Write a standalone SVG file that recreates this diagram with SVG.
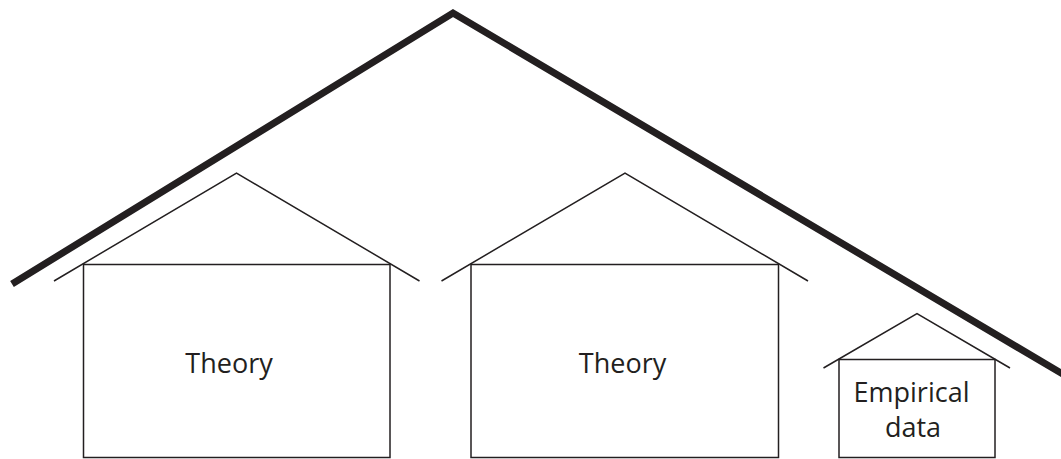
<svg xmlns="http://www.w3.org/2000/svg" width="1061" height="459" viewBox="0 0 1061 459">
<style>
.thin{fill:none;stroke:#231f20;stroke-width:1.5;stroke-linejoin:miter}
.thick{fill:none;stroke:#231f20;stroke-width:7;stroke-linejoin:miter;stroke-miterlimit:10}
.lbl{font-family:"Open Sans","Noto Sans",sans-serif;font-size:27px;fill:#231f20;text-anchor:middle}
</style>
<rect width="1061" height="459" fill="#ffffff"/>
<g id="connectors">
<polyline class="thick" points="12,284 453,13 1066,376"/>
</g>
<g id="house1">
<polyline class="thin" points="54,281 236.5,173 419.5,281"/>
<rect class="thin" x="83.5" y="264.5" width="306.5" height="193"/>
<text class="lbl" x="229" y="373">Theory</text>
</g>
<g id="house2">
<polyline class="thin" points="441.5,281 625,173 808,281"/>
<rect class="thin" x="471" y="264.5" width="307.5" height="193"/>
<text class="lbl" x="622.5" y="373">Theory</text>
</g>
<g id="house3">
<polyline class="thin" points="823.5,368 917,313.5 1010,368"/>
<rect class="thin" x="839" y="359.5" width="156" height="98"/>
<text class="lbl" x="911.5" y="402">Empirical</text>
<text class="lbl" x="913" y="437">data</text>
</g>
</svg>
